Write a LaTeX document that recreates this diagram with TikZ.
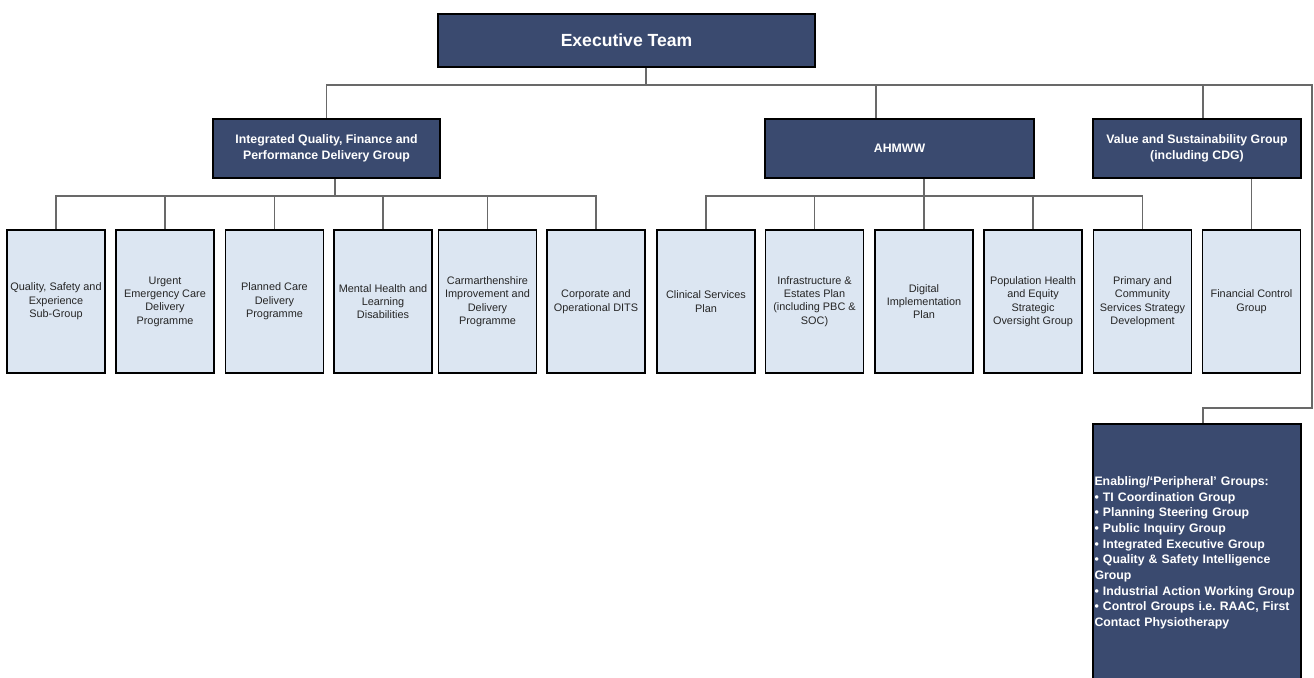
\documentclass[tikz,border=0pt]{standalone}
\usepackage{fontspec}
\setmainfont{Liberation Sans}
\usepackage{tikz}

\definecolor{navy}{RGB}{58,74,111}
\definecolor{paleblue}{RGB}{220,230,242}
\definecolor{wire}{RGB}{105,105,105}

\begin{document}
\frenchspacing
\begin{tikzpicture}[x=0.02cm, y=-0.02cm,
  head/.style={draw=black, line width=1pt, fill=navy, text=white, align=center,
    font=\fontsize{7}{9}\selectfont\bfseries, minimum height=1.18cm, inner sep=1pt},
  unit/.style={draw=black, line width=1pt, fill=paleblue, text=black!85, align=center,
    font=\fontsize{6.2}{7.6}\selectfont, minimum width=1.96cm, minimum height=2.86cm, inner sep=0.5pt},
  link/.style={draw=wire, line width=0.6pt}]

\useasboundingbox (0,0) rectangle (1314,677);

% TOP
  \node[head, minimum width=7.54cm, minimum height=1.06cm, font=\fontsize{10}{12}\selectfont\bfseries]
    (exec) at (626.5,40.5) {Executive Team};

% GROUPS
  \node[head, minimum width=4.54cm] (iqf) at (326.5,148.5) {Integrated Quality, Finance and\\Performance Delivery Group};
  \node[head, minimum width=5.38cm] (ahm) at (899.5,148.5) {AHMWW};
  \node[head, minimum width=4.16cm] (val) at (1197,148.5) {Value and Sustainability Group\\(including CDG)};

% SUB-GROUPS
  \foreach \x/\i/\txt in {56/1/{Quality, Safety and\\Experience\\Sub-Group},
                          165/2/{Urgent\\Emergency Care\\Delivery\\Programme},
                          274.5/3/{Planned Care\\Delivery\\Programme},
                          383/4/{Mental Health and\\Learning\\Disabilities},
                          487.5/5/{Carmarthenshire\\Improvement and\\Delivery\\Programme},
                          596/6/{Corporate and\\Operational DITS},
                          706/7/{Clinical Services\\Plan},
                          814.5/8/{Infrastructure \&\\Estates Plan\\(including PBC \&\\SOC)},
                          924/9/{Digital\\Implementation\\Plan},
                          1033/10/{Population Health\\and Equity\\Strategic\\Oversight Group},
                          1142.5/11/{Primary and\\Community\\Services Strategy\\Development},
                          1251.5/12/{Financial Control\\Group}}
      \node[unit] (b\i) at (\x,301.5) {\txt};

% ENABLING GROUPS
  \node[head, minimum width=4.16cm, minimum height=5.12cm, text width=4.1cm, align=left,
    inner xsep=0.03cm, font=\fontsize{7}{8.9}\selectfont\bfseries] (enab) at (1197,552)
    {\\[-3pt]Enabling/‘Peripheral’ Groups:\\
     • TI Coordination Group\\
     • Planning Steering Group\\
     • Public Inquiry Group\\
     • Integrated Executive Group\\
     • Quality \& Safety Intelligence\\
     Group\\
     • Industrial Action Working Group\\
     • Control Groups i.e. RAAC, First\\
     Contact Physiotherapy};

% CONNECTORS, first level
  \coordinate (etap) at (646,85);
  \coordinate (rtap) at (1312,85);
  \coordinate (ahmtap) at (876,85);
  \coordinate (valtap) at (1203,85);
  \coordinate (elbow) at (1203,408);
  \draw[link] (exec.south -| etap) -- (etap);
  \draw[link] (iqf.north) |- (rtap) |- (elbow) -- (elbow |- enab.north);
  \draw[link] (ahmtap) -- (ahmtap |- ahm.north);
  \draw[link] (valtap) -- (valtap |- val.north);

% CONNECTORS, second level
  \coordinate (iqfbus) at (335,196);
  \draw[link] (iqfbus |- iqf.south) -- (iqfbus);
  \draw[link] (b1.north) |- (b6.north |- iqfbus) -- (b6.north);
  \foreach \i in {2,...,5}
      \draw[link] (b\i.north) -- (b\i.north |- iqfbus);

  \draw[link] (b9.north |- ahm.south) -- (b9.north);
  \draw[link] (b7.north) |- (b11.north |- iqfbus) -- (b11.north);
  \foreach \i in {8,10}
      \draw[link] (b\i.north) -- (b\i.north |- iqfbus);

  \draw[link] (b12.north |- val.south) -- (b12.north);
\end{tikzpicture}
\end{document}
